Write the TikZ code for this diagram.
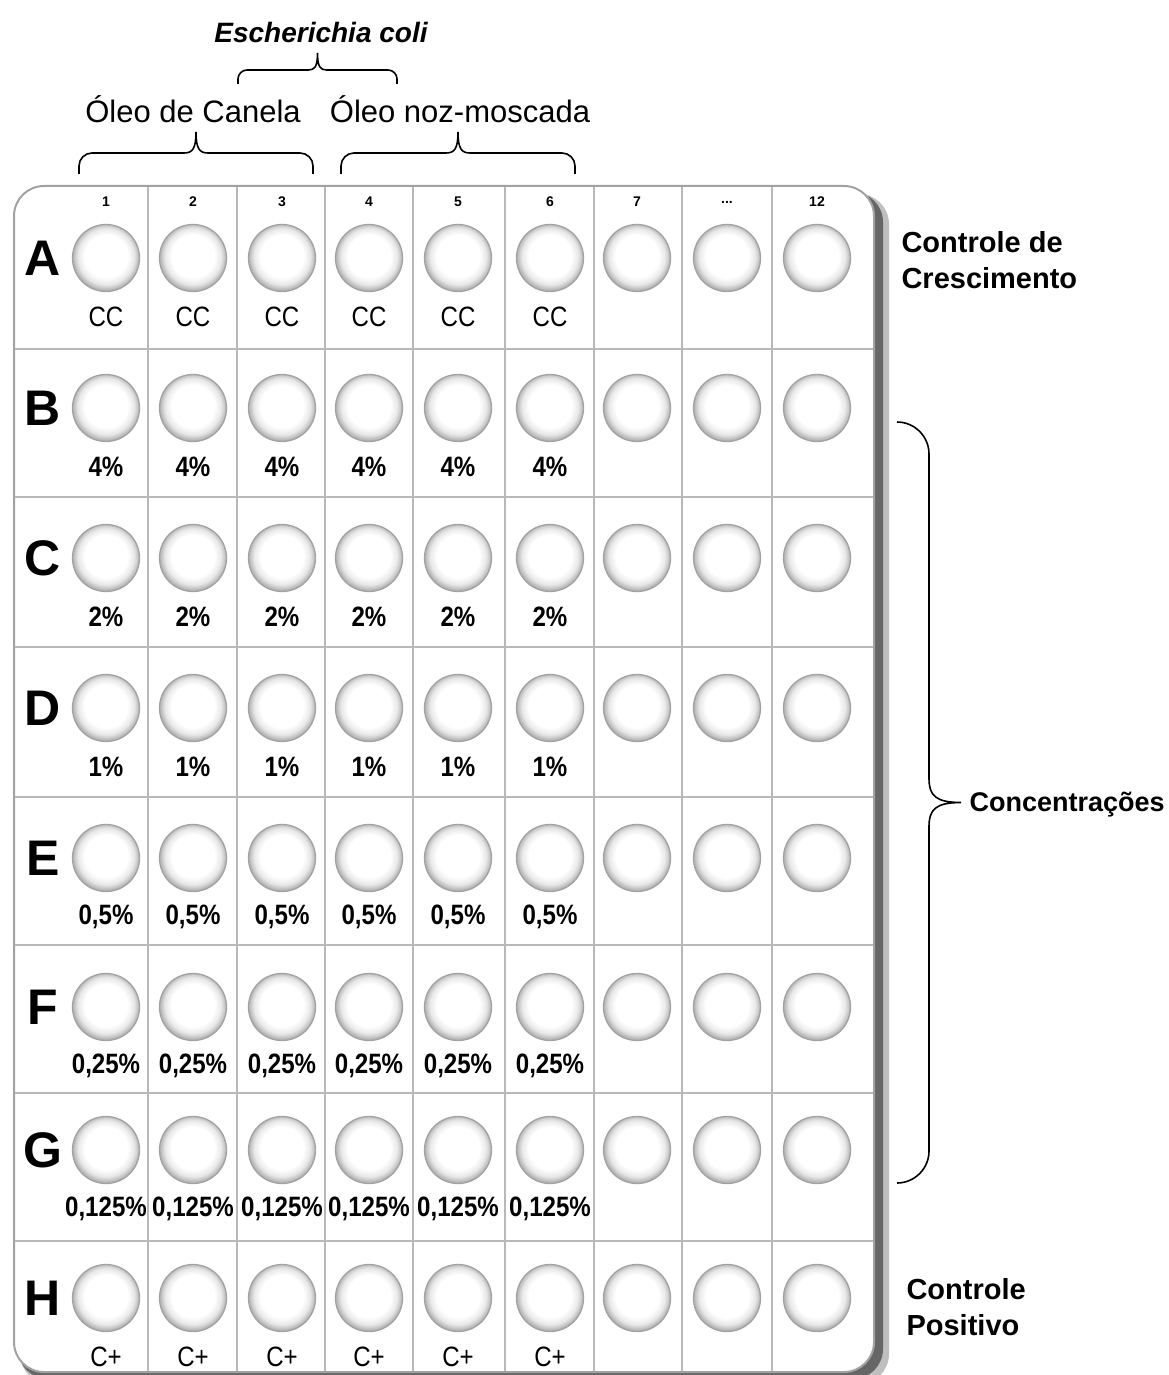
\documentclass[tikz,border=0pt]{standalone}
\usepackage{fontspec}
\setmainfont{Liberation Sans}
\usepackage{tikz}
\usetikzlibrary{calc}
\definecolor{Rim}{HTML}{A2A2A2}
\definecolor{Rule}{HTML}{B8B8B8}
\pgfdeclareradialshading{wellshade}{\pgfpoint{0bp}{2bp}}{color(0bp)=(white); color(16bp)=(white); color(21bp)=(black!9); color(25bp)=(black!30); color(50bp)=(black!30)}
\newcommand{\coldots}{...}
\newcommand{\narrow}[1]{\scalebox{0.86}[1]{#1}}

\begin{document}
\begin{tikzpicture}[
          x=1pt, y=-1pt,
          well/.style={circle, minimum size=67pt, inner sep=0pt, draw=Rim, line width=1.3pt, shading=wellshade},
          rowtag/.style={font=\fontsize{50}{50}\selectfont\bfseries},
          colnum/.style={font=\fontsize{14}{14}\selectfont\bfseries},
          welltext/.style={font=\fontsize{28}{28}\selectfont, inner sep=0pt},
          oil/.style={font=\fontsize{31}{31}\selectfont},
          side/.style={font=\fontsize{29}{36}\selectfont\bfseries, align=left, anchor=west},
          gridrule/.style={draw=Rule, line width=1.6pt},
          % brace over a row: #1 flat, #2 tip, #3 curl, #4 tip width
          hbrace/.style n args={4}{line width=1.6pt, to path={let \p1=(\tikztostart), \p2=(\tikztotarget), \n1={(\x1+\x2)/2} in
            -- (\x1,\y1+#1-#3) .. controls (\x1,\y1+#1-0.45*#3) and (\x1+0.45*#3,\y1+#1) .. (\x1+#3,\y1+#1)
            -- (\n1-#4,\y1+#1) .. controls (\n1-0.3*#4,\y1+#1) and (\n1,\y1+#1+0.2*#2-0.2*#1) .. (\n1,\y1+#2)
            .. controls (\n1,\y1+#1+0.2*#2-0.2*#1) and (\n1+0.3*#4,\y1+#1) .. (\n1+#4,\y1+#1)
            -- (\x2-#3,\y1+#1) .. controls (\x2-0.45*#3,\y1+#1) and (\x2,\y1+#1-0.45*#3) .. (\x2,\y1+#1-#3) -- (\tikztotarget)}},
          % brace beside a column, tip to the right
          vbrace/.style n args={4}{line width=1.6pt, to path={let \p1=(\tikztostart), \p2=(\tikztotarget), \n1={(\y1+\y2)/2} in
            -- (\x1+#1-#3,\y1) .. controls (\x1+#1-0.45*#3,\y1) and (\x1+#1,\y1-0.45*#3) .. (\x1+#1,\y1-#3)
            -- (\x1+#1,\n1+#4) .. controls (\x1+#1,\n1+0.3*#4) and (\x1+#1+0.2*#2-0.2*#1,\n1) .. (\x1+#2,\n1)
            .. controls (\x1+#1+0.2*#2-0.2*#1,\n1) and (\x1+#1,\n1-0.3*#4) .. (\x1+#1,\n1-#4)
            -- (\x1+#1,\y2+#3) .. controls (\x1+#1,\y2+0.45*#3) and (\x1+#1-0.45*#3,\y2) .. (\x1+#1-#3,\y2) -- (\tikztotarget)}}
        ]
          \useasboundingbox (0,0) rectangle (1169,1375);
          % plate and its shadow
          \fill[black!25, rounded corners=30pt] (20,194) rectangle (889,1384);
          \fill[black!60, rounded corners=30pt] (18,192) rectangle (883,1379);
          \draw[draw=Rim, line width=2pt, fill=white, rounded corners=30pt] (14,186) rectangle (874,1372);
          \foreach \x in {148,237,325,413,505,594,682,772}
            \draw[gridrule] (\x,187) -- (\x,1371);
          \foreach \y in {349,497,647,797,945,1093,1241}
            \draw[gridrule] (15,\y) -- (873,\y);

          % column numbers
          \foreach \x/\n [count=\c] in {106/1,193/2,282/3,369/4,458/5,550/6,637/7,727/\coldots,817/12}
            \node[colnum] (n\c) at (\x,202) {\n};

          % rows of wells
          \foreach \r/\y/\t/\w in {A/258/CC/\mdseries, B/408/4\%/\bfseries, C/558/2\%/\bfseries,
              D/708/1\%/\bfseries, E/858/{0,5\%}/\bfseries, F/1007/{0,25\%}/\bfseries,
              G/1150/{0,125\%}/\bfseries, H/1298/C+/\mdseries} {
            \node[rowtag] (r\r) at (43,\y) {\r};
            \foreach \x [count=\c] in {106,193,282,369,458,550,637,727,817}
              \node[well] (w\r\c) at (\x,\y) {};
            \foreach \x [count=\c] in {106,193,282,369,458,550}
              \node[welltext] (t\r\c) at (\x,\y+59) {\narrow{\w\t}};
          }

          % groups above the plate
          \node[font=\fontsize{28}{28}\selectfont\bfseries\itshape] (ecoli) at (321,32) {Escherichia coli};
          \coordinate (ecL) at (238,84);
          \coordinate (ecR) at (397,84);
          \draw[hbrace={14pt}{31pt}{9pt}{9pt}] (ecL) to (ecR);
          \node[oil] (canela) at (193,109) {Óleo de Canela};
          \node[oil] (noz) at (460,109) {Óleo noz-moscada};
          \coordinate (caL) at (79,174);
          \coordinate (caR) at (313,174);
          \draw[hbrace={21pt}{42pt}{13pt}{12pt}] (caL) to (caR);
          \coordinate (nzL) at (341,174);
          \coordinate (nzR) at (575,174);
          \draw[hbrace={21pt}{42pt}{13pt}{12pt}] (nzL) to (nzR);

          % labels at the right
          \node[side] (cresc) at (898,260) {Controle de\\Crescimento};
          \coordinate (coT) at (897,422);
          \coordinate (coB) at (897,1183);
          \draw[vbrace={32pt}{64pt}{32pt}{24pt}] (coT) to (coB);
          \node[side, font=\fontsize{27}{27}\selectfont\bfseries] (conc) at (966,805) {Concentrações};
          \node[side] (pos) at (903,1307) {Controle\\Positivo};
        \end{tikzpicture}
\end{document}
